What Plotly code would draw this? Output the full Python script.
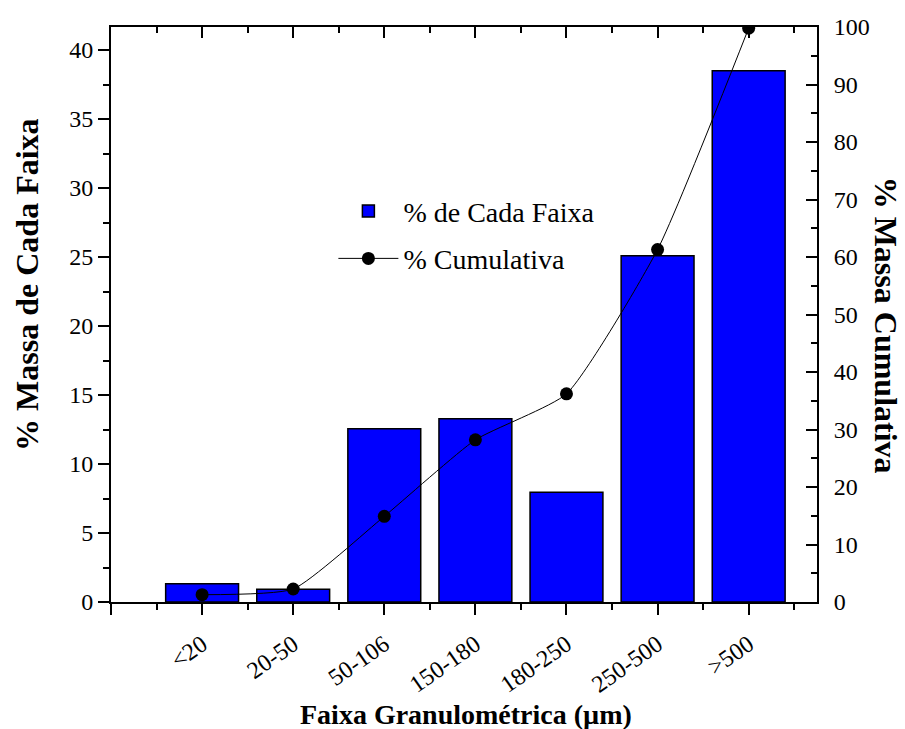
import plotly.graph_objects as go

categories = ["<20", "20-50", "50-106", "150-180", "180-250", "250-500", ">500"]
massa_faixa = [1.33, 0.92, 12.56, 13.28, 7.95, 25.1, 38.5]
cumulativa = [1.27, 2.26, 14.9, 28.2, 36.2, 61.3, 99.8]

FONT = "Liberation Serif"
xpos = list(range(len(categories)))

fig = go.Figure()
fig.add_trace(go.Bar(
    x=xpos, y=massa_faixa, name="% de Cada Faixa", width=0.8,
    marker=dict(color="#0000FF", line=dict(color="black", width=1.5)),
    legendgroup="a", yaxis="y",
))
fig.add_trace(go.Scatter(
    x=xpos, y=cumulativa, name="% Cumulativa", mode="lines+markers",
    line=dict(color="black", width=1, shape="spline", smoothing=0.5),
    marker=dict(color="black", size=13),
    legendgroup="b", yaxis="y2",
))
# invisible trace to anchor the top mirror axis
fig.add_trace(go.Scatter(x=[xpos[0]], y=[0], xaxis="x2", yaxis="y",
                         mode="markers", marker=dict(opacity=0),
                         showlegend=False, hoverinfo="skip"))

xrange = [-1, len(categories) - 0.25]
tickvals = [-1] + xpos
ticktext = [""] + categories
minorvals = [v + 0.5 for v in [-1] + xpos]

fig.update_layout(
    width=905, height=729,
    margin=dict(l=111, r=88, t=27, b=127),
    paper_bgcolor="white", plot_bgcolor="white",
    font=dict(family=FONT, size=24, color="black"),
    bargap=0.2,
    xaxis=dict(
        range=xrange, tickmode="array", tickvals=tickvals, ticktext=ticktext,
        ticks="outside", ticklen=11, tickwidth=2, tickcolor="black",
        tickangle=-35, showline=True, linecolor="black", linewidth=2,
        showgrid=False, zeroline=False,
        minor=dict(tickmode="array", tickvals=minorvals, ticks="outside",
                   ticklen=6, tickwidth=2, tickcolor="black", showgrid=False),
        tickfont=dict(size=24, family=FONT),
        ticklabelstandoff=6,
    ),
    xaxis2=dict(
        range=xrange, overlaying="x", side="top", anchor="y",
        tickmode="array", tickvals=tickvals, showticklabels=False,
        ticks="inside", ticklen=11, tickwidth=2, tickcolor="black",
        showline=True, linecolor="black", linewidth=2,
        showgrid=False, zeroline=False,
        minor=dict(tickmode="array", tickvals=minorvals, ticks="inside",
                   ticklen=6, tickwidth=2, tickcolor="black", showgrid=False),
    ),
    yaxis=dict(
        range=[0, 41.67], tickmode="linear", tick0=0, dtick=5,
        ticks="outside", ticklen=11, tickwidth=2, tickcolor="black",
        showline=True, linecolor="black", linewidth=2,
        showgrid=False, zeroline=False,
        minor=dict(dtick=2.5, ticks="outside", ticklen=6, tickwidth=2,
                   tickcolor="black", showgrid=False),
        tickfont=dict(size=24, family=FONT),
    ),
    yaxis2=dict(
        range=[0, 100], overlaying="y", side="right", anchor="x",
        tickmode="linear", tick0=0, dtick=10,
        ticks="inside", ticklen=11, tickwidth=2, tickcolor="black",
        showline=True, linecolor="black", linewidth=2,
        showgrid=False, zeroline=False,
        minor=dict(dtick=5, ticks="inside", ticklen=6, tickwidth=2,
                   tickcolor="black", showgrid=False),
        tickfont=dict(size=24, family=FONT),
        ticklabelstandoff=10,
    ),
    legend=dict(
        x=0.315, y=0.723, xanchor="left", yanchor="top",
        bgcolor="rgba(0,0,0,0)", borderwidth=0,
        font=dict(size=28, family=FONT), itemwidth=60,
        tracegroupgap=8,
    ),
    showlegend=True,
    annotations=[
        dict(text="<b>Faixa Granulométrica (µm)</b>", xref="paper", yref="paper",
             x=0.503, y=-0.195, xanchor="center", yanchor="middle",
             showarrow=False, font=dict(size=28, family=FONT)),
        dict(text="<b>% Massa de Cada Faixa</b>", xref="paper", yref="paper",
             x=-0.12, y=0.552, xanchor="center", yanchor="middle", textangle=-90,
             showarrow=False, font=dict(size=32, family=FONT)),
        dict(text="<b>% Massa Cumulativa</b>", xref="paper", yref="paper",
             x=1.098, y=0.482, xanchor="center", yanchor="middle", textangle=90,
             showarrow=False, font=dict(size=32, family=FONT)),
    ],
)

fig.write_html("out.html")
